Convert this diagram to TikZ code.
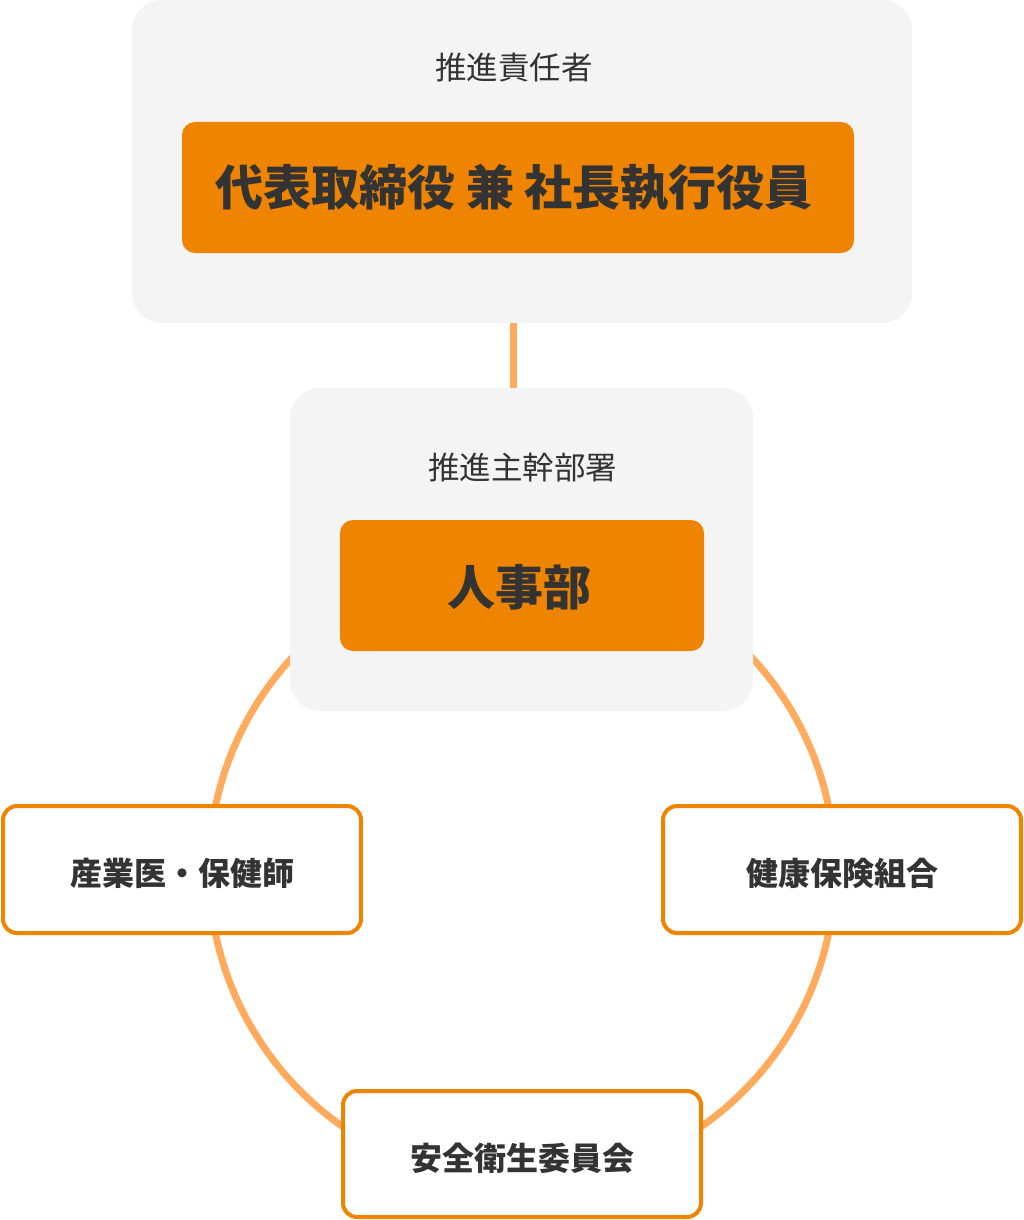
\documentclass[tikz,border=0pt]{standalone}
\usepackage{fontspec}
\setmainfont{Noto Sans CJK JP}
\usepackage{tikz}
\definecolor{hpgray}{HTML}{F4F4F4}
\definecolor{hporange}{HTML}{EF8400}
\definecolor{hpring}{HTML}{FFAA5C}
\definecolor{hptext}{HTML}{333333}
\begin{document}
\begin{tikzpicture}[x=1pt,y=-1pt,
  panel/.style={fill=hpgray,rounded corners=30pt,inner sep=0pt},
  head/.style={text=hptext,font=\fontsize{31.5}{36}\selectfont,inner sep=0pt},
  lead/.style={fill=hporange,rounded corners=13pt,inner sep=0pt},
  leadtext/.style={text=hptext,font=\bfseries\fontsize{48}{54}\selectfont,inner sep=0pt},
  partner/.style={draw=hporange,line width=4pt,fill=white,rounded corners=14pt,
    minimum width=358pt,minimum height=127pt,inner sep=0pt,text=hptext,
    text height=32pt,text depth=0pt,
    font=\bfseries\fontsize{32}{38}\selectfont},
  link/.style={hpring,line width=7pt}]
  \useasboundingbox (0,0) rectangle (1024,1220);
  % ring behind everything
  \node[circle,draw=hpring,line width=7pt,minimum size=626pt,inner sep=0pt] (ring) at (522,870) {};
  % promotion owner
  \node[panel,minimum width=780pt,minimum height=323pt] (owner) at (522,161.5) {};
  \node[head] (ownerhead) at (514,68) {推進責任者};
  \node[lead,minimum width=672pt,minimum height=131pt] (ceo) at (518,187.5) {};
  \node[leadtext] (ceotext) at (514,188) {代表取締役 兼 社長執行役員};
  % promotion department
  \node[panel,minimum width=463pt,minimum height=323pt] (dept) at (521.5,549.5) {};
  \node[head] (depthead) at (522.5,468) {推進主幹部署};
  \node[lead,minimum width=364pt,minimum height=131pt] (hr) at (522,585.5) {};
  \node[leadtext] (hrtext) at (519,587) {人事部};
  \draw[link] ([xshift=-9pt]owner.south) -- ([xshift=-9pt]owner.south |- dept.north);
  % partners on the ring
  \node[partner] (doctor) at (182,869.5) {産業医・保健師};
  \node[partner] (union) at (842,869.5) {健康保険組合};
  \node[partner,minimum height=126pt] (safety) at (522,1154) {安全衛生委員会};
\end{tikzpicture}
\end{document}
